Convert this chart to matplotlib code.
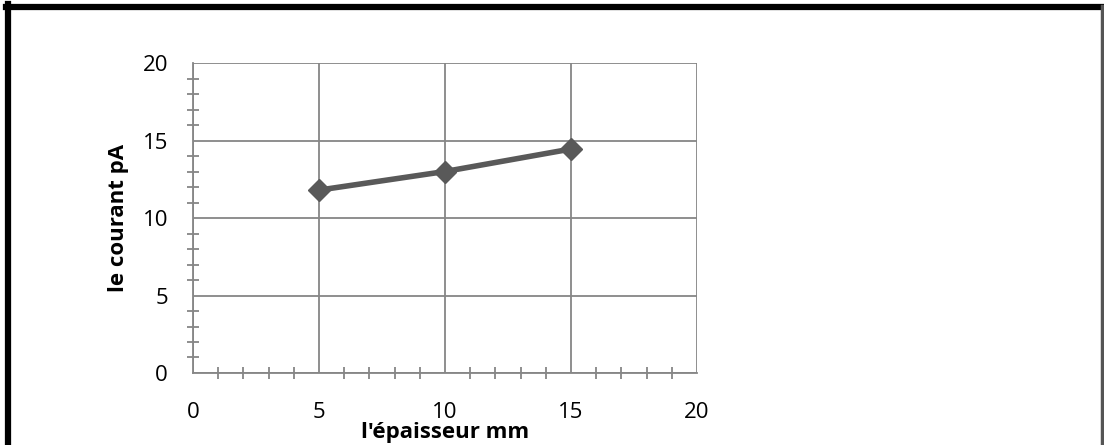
import matplotlib.pyplot as plt
from matplotlib.lines import Line2D
from matplotlib.ticker import MultipleLocator

# data
epaisseur = [5, 10, 15]
courant = [11.8, 13.0, 14.45]

plt.rcParams['font.family'] = ['Open Sans', 'DejaVu Sans']

fig = plt.figure(figsize=(11.04, 4.45), dpi=100)
ax = fig.add_axes([0.1748, 0.1618, 0.4565, 0.6966])

grid_col = '#868686'
ax.plot(epaisseur, courant, color='#595959', lw=4, marker='D', ms=11.5,
        zorder=3, clip_on=False)

ax.set_xlim(0, 20)
ax.set_ylim(0, 20)
ax.xaxis.set_major_locator(MultipleLocator(5))
ax.yaxis.set_major_locator(MultipleLocator(5))
ax.xaxis.set_minor_locator(MultipleLocator(1))
ax.yaxis.set_minor_locator(MultipleLocator(1))
ax.grid(True, which='major', color=grid_col, lw=1.3)
ax.tick_params(which='both', direction='inout', color=grid_col, width=1.3)
ax.tick_params(which='major', length=0)
ax.tick_params(which='minor', length=9)
ax.tick_params(axis='x', pad=21, labelsize=16)
ax.tick_params(axis='y', pad=18, labelsize=16)

for s in ['top', 'right']:
    ax.spines[s].set_visible(False)
for s in ['left', 'bottom']:
    ax.spines[s].set_color(grid_col)
    ax.spines[s].set_linewidth(1.3)

ax.set_xlabel("l'épaisseur mm", fontsize=16, fontweight='bold', va='baseline')
ax.set_ylabel('le courant pA', fontsize=16, fontweight='bold', va='baseline')
ax.xaxis.set_label_coords(0.5, -0.21)
ax.yaxis.set_label_coords(-0.136, 0.5)

# outer frame
fig.add_artist(Line2D([0.0072, 0.0072], [0, 0.99], color='black', lw=4.5))
fig.add_artist(Line2D([0.0050, 0.998], [0.984, 0.984], color='black', lw=4.5))
fig.add_artist(Line2D([0.9985, 0.9985], [0, 0.986], color='#555555', lw=2.5))

fig.savefig('out.png', dpi=100)
